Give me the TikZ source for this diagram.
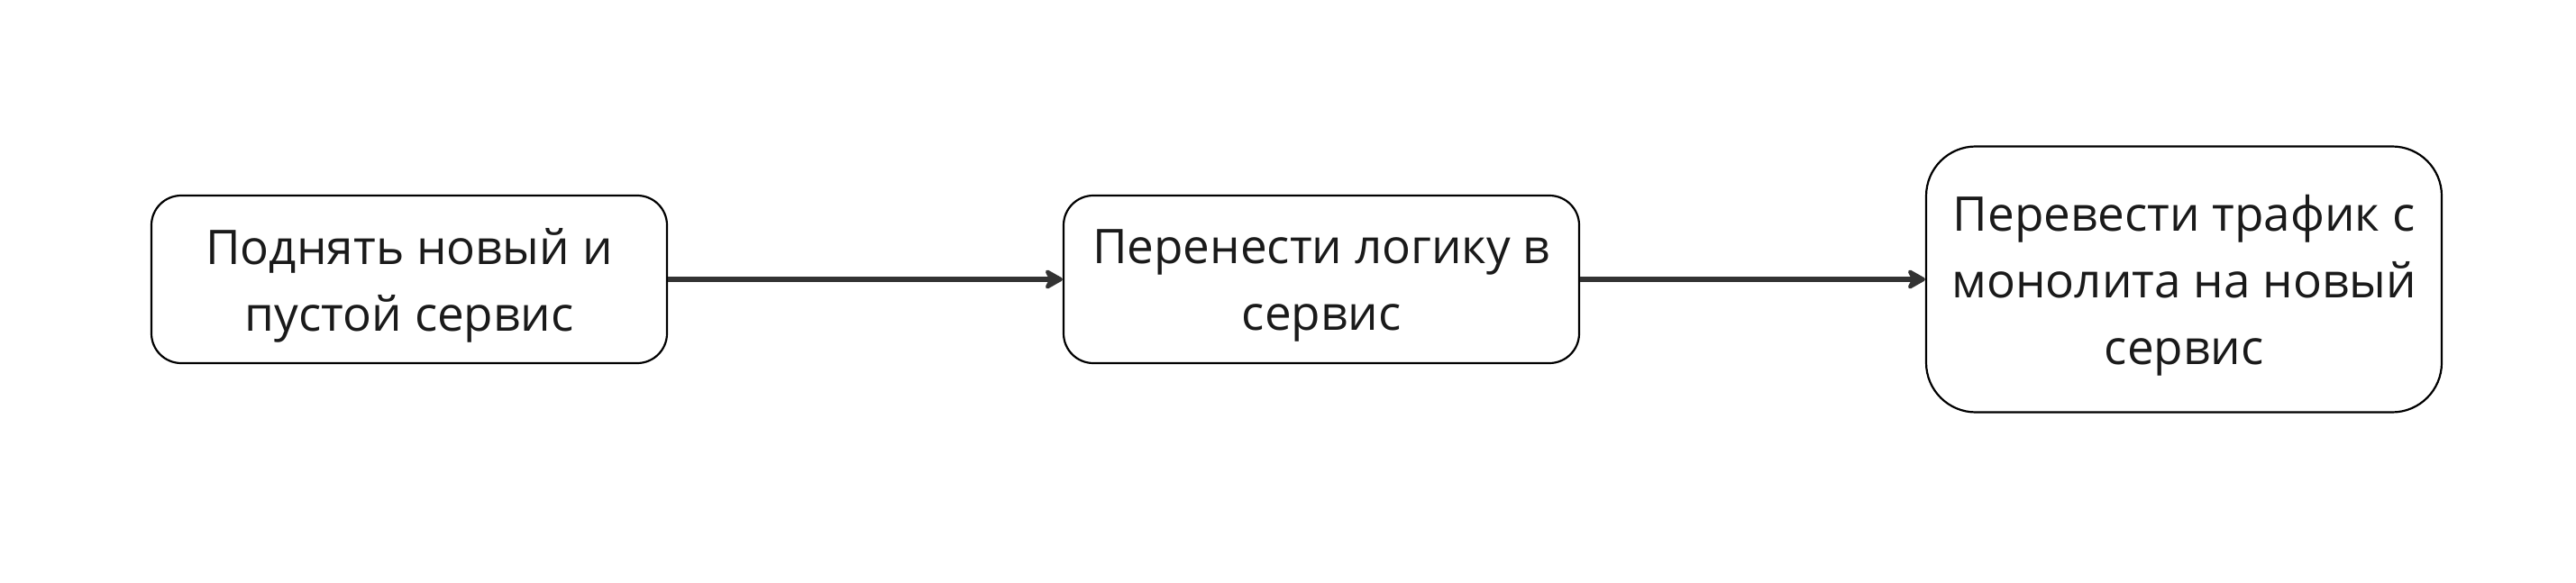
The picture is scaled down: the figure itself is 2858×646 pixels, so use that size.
\documentclass[tikz,border=0pt]{standalone}
\usepackage{fontspec}
\setmainfont{Open Sans}
\usetikzlibrary{arrows.meta}
\definecolor{edgecol}{HTML}{333333}
\definecolor{txtcol}{HTML}{1A1A1A}
\begin{document}
\begin{tikzpicture}[x=1pt,y=1pt,
  box/.style={draw=black, line width=2.2pt, fill=white, rounded corners=33pt,
    minimum width=572pt, minimum height=186pt, inner sep=0pt},
  bigbox/.style={box, rounded corners=55pt, minimum height=295pt},
  boxtext/.style={align=center, inner sep=0pt, yshift=-7pt,
    text=txtcol, font=\fontsize{53}{74}\selectfont},
  conn/.style={draw=edgecol, line width=5.5pt, -{Stealth[length=24pt,width=27pt,inset=7pt,round]}}]
\useasboundingbox[fill=white] (0,0) rectangle (2858,646);
\node[box] (a) at (454,336) {};
\node[boxtext] (at) at (a.center) {Поднять новый и\\пустой сервис};
\node[box] (b) at (1466,336) {};
\node[boxtext] (bt) at (b.center) {Перенести логику в\\сервис};
\node[bigbox] (c) at (2423,336) {};
\node[boxtext] (ct) at (c.center) {Перевести трафик с\\монолита на новый\\сервис};
\draw[conn] (a.east) -- (b.west);
\draw[conn] (b.east) -- (c.west);
\end{tikzpicture}
\end{document}
